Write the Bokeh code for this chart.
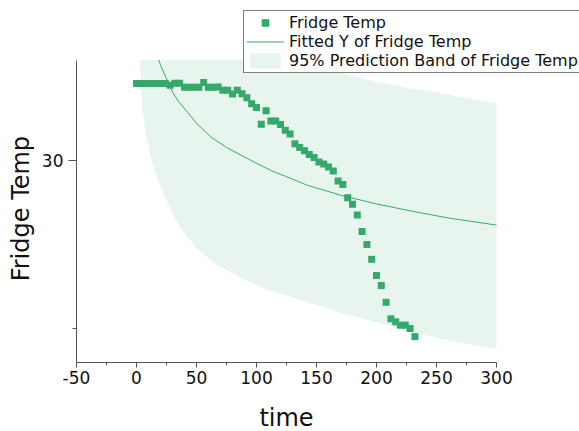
import math
from bokeh.plotting import figure
from bokeh.models import Range1d, FixedTicker, Legend, LegendItem, Label
from bokeh.embed import file_html
from bokeh.resources import INLINE

# ---- data ----
time = [0, 4, 8, 12, 16, 20, 24, 28, 32, 36, 40, 44, 48, 52, 56, 60, 64, 68, 72, 76,
        80, 84, 88, 92, 96, 100, 104, 108, 112, 116, 120, 124, 128, 132, 136, 140,
        144, 148, 152, 156, 160, 164, 168, 172, 176, 180, 184, 188, 192, 196, 200,
        204, 208, 212, 216, 220, 224, 228, 232]
fridge_temp = [32.30, 32.30, 32.30, 32.30, 32.30, 32.30, 32.30, 32.25, 32.31, 32.31,
               32.19, 32.19, 32.19, 32.19, 32.33, 32.19, 32.19, 32.20, 32.10, 32.10,
               31.99, 32.10, 32.00, 31.88, 31.70, 31.59, 31.09, 31.49, 31.19, 31.19,
               31.08, 30.91, 30.80, 30.51, 30.40, 30.30, 30.19, 30.10, 29.97, 29.91,
               29.82, 29.70, 29.40, 29.30, 28.90, 28.71, 28.39, 27.90, 27.51, 27.07,
               26.59, 26.29, 25.79, 25.30, 25.21, 25.11, 25.11, 25.01, 24.77]

# fitted curve (visible part, below the top of the axis at 33)
fit_t = [18.6, 20, 23, 26, 30, 35, 43, 50, 62, 75, 87, 100, 113, 125, 142, 170, 200, 230, 260, 300]
fit_v = [33.00, 32.85, 32.60, 32.37, 32.05, 31.77, 31.43, 31.12, 30.71, 30.40,
         30.17, 29.93, 29.70, 29.53, 29.28, 28.98, 28.72, 28.50, 28.30, 28.09]

# 95% prediction band (visible part, capped at the top of the axis at 33)
band_t = [2.7, 3, 5, 8, 12, 17, 23, 30, 37, 50, 67, 87, 110, 138, 142, 170, 198, 230, 253, 300]
band_low = [33.0, 32.75, 31.55, 30.75, 30.10, 29.50, 28.98, 28.45, 27.99, 27.39, 26.90,
            26.52, 26.15, 25.85, 25.80, 25.48, 25.21, 24.92, 24.71, 24.40]
band_up = [33.0, 33.0, 33.0, 33.0, 33.0, 33.0, 33.0, 33.0, 33.0, 33.0, 33.0,
           33.0, 33.0, 33.0, 32.95, 32.63, 32.37, 32.15, 32.02, 31.70]

x_ticks = [-50, 0, 50, 100, 150, 200, 250, 300]
x_minor = [-25, 25, 75, 125, 175, 225, 275]
y_ticks = [30]
y_minor = [25]
x_axis_span = (-50, 300)
y_axis_span = (24, 33)

GREEN = "#35a96a"
BAND = "#e8f5ee"
FONT = "DejaVu Sans"

# The frame fills the whole canvas; the axes are drawn at fixed locations inside it,
# so the legend and the axis titles (which lie outside the axes box) are not clipped.
p = figure(width=579, height=431, output_backend="svg", toolbar_location=None,
           x_range=Range1d(-113.33, 369.17), y_range=Range1d(21.946, 34.774),
           min_border_left=0, min_border_right=0, min_border_top=0, min_border_bottom=0)
p.xgrid.visible = False
p.ygrid.visible = False
p.outline_line_color = None
p.background_fill_color = "white"
p.border_fill_color = "white"

for ax in (p.xaxis[0], p.yaxis[0]):
    ax.axis_line_color = "#555555"
    ax.major_tick_line_color = "#555555"
    ax.minor_tick_line_color = "#555555"
    ax.major_tick_in = 0
    ax.minor_tick_in = 0
    ax.major_label_text_font = FONT
    ax.major_label_text_font_size = "17px"
    ax.major_label_text_color = "#111111"

p.xaxis.fixed_location = y_axis_span[0]
p.xaxis.bounds = x_axis_span
p.xaxis.ticker = FixedTicker(ticks=x_ticks, minor_ticks=x_minor)
p.xaxis.major_label_overrides = {-50: "-50"}
p.xaxis.major_tick_out = 5
p.xaxis.minor_tick_out = 3
p.xaxis.major_label_standoff = 4

p.yaxis.fixed_location = x_axis_span[0]
p.yaxis.bounds = y_axis_span
p.yaxis.ticker = FixedTicker(ticks=y_ticks, minor_ticks=y_minor)
p.yaxis.major_tick_out = 8
p.yaxis.minor_tick_out = 4
p.yaxis.major_label_standoff = 5

band = p.varea(x=band_t, y1=band_low, y2=band_up, fill_color=BAND)
fit = p.line(fit_t, fit_v, line_color=GREEN, line_width=1)
pts = p.scatter(time, fridge_temp, marker="square", size=7, fill_color=GREEN, line_color=None)

legend = Legend(items=[LegendItem(label="Fridge Temp", renderers=[pts]),
                       LegendItem(label="Fitted Y of Fridge Temp", renderers=[fit]),
                       LegendItem(label="95% Prediction Band of Fridge Temp", renderers=[band])],
                location=(243, 358), margin=0, padding=2, spacing=0,
                glyph_width=38, glyph_height=19, label_height=19, label_standoff=5,
                label_text_font=FONT, label_text_font_size="16px", label_text_color="#111111",
                border_line_color="black", border_line_width=1,
                background_fill_color="white", background_fill_alpha=1.0)
p.add_layout(legend)

p.add_layout(Label(x=125, y=22.34, text="time", text_align="center", text_baseline="alphabetic",
                   text_font=FONT, text_font_size="24px", text_color="#111111"))
p.add_layout(Label(x=-96.6, y=28.58, text="Fridge Temp", angle=math.pi / 2, angle_units="rad",
                   text_align="center", text_baseline="alphabetic",
                   text_font=FONT, text_font_size="24px", text_color="#111111"))

open("out.html", "w").write(file_html(p, INLINE))
